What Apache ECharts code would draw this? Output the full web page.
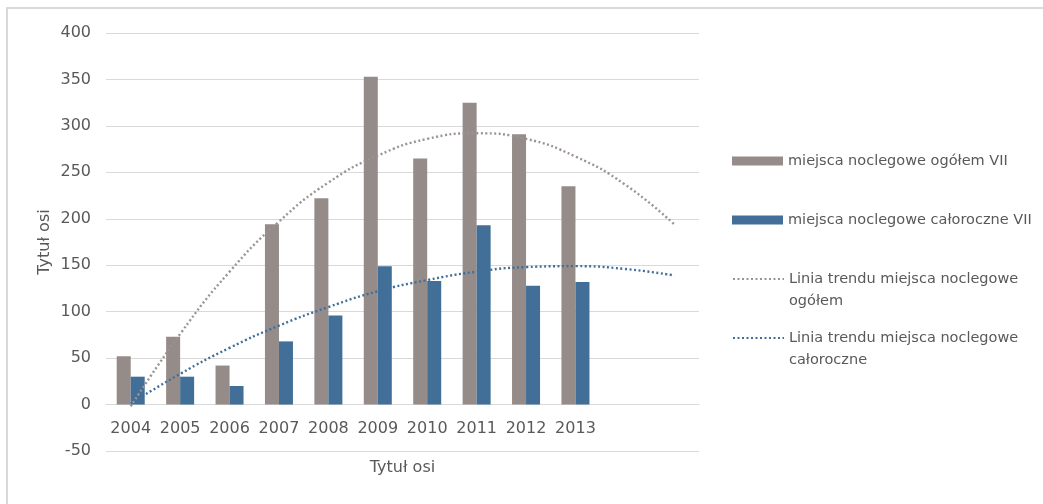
<!DOCTYPE html>
<html>
<head>
<meta charset="utf-8">
<script src="https://cdn.jsdelivr.net/npm/echarts@6/dist/echarts.min.js"></script>
<style>
  html, body { margin: 0; padding: 0; background: #fff; }
  #chart { width: 1043px; height: 504px; }
</style>
</head>
<body>
<div id="chart"></div>
<script>
// categories (two empty slots after 2013 for the trend forecast)
const years = ['2004', '2005', '2006', '2007', '2008', '2009', '2010', '2011', '2012', '2013', '', ''];

// bar values
const ogolem = [52, 73, 42, 194, 222, 353, 265, 325, 291, 235];
const caloroczne = [30, 30, 20, 68, 96, 149, 133, 193, 128, 132];

// trend lines read at each category position
const trendOgolem = [-2, 76, 143, 197, 239, 268, 286, 292, 286, 267, 237, 194];
const trendCaloroczne = [1, 33, 61, 85, 105, 122, 134, 143, 148, 149, 146, 139];

const yTicks = { min: -50, max: 400, step: 50 };

const names = [
  'miejsca noclegowe ogółem VII',
  'miejsca noclegowe całoroczne VII',
  'Linia trendu miejsca noclegowe ogółem',
  'Linia trendu miejsca noclegowe całoroczne'
];

const grayBar = '#958b89';
const blueBar = '#416f97';
const txt = '#595959';
const font = 'DejaVu Sans';

let myChart = echarts.init(document.getElementById('chart'));

// one legend per entry so each sits where the original puts it
function legendItem(name, top, isLine) {
  let lg = {
    data: [name],
    left: 732,
    top: top,
    orient: 'vertical',
    padding: 0,
    itemWidth: 51,
    itemHeight: 9,
    selectedMode: false,
    textStyle: { color: txt, fontFamily: font, fontSize: 14.5, lineHeight: 22 }
  };
  if (isLine) {
    // blank first line so the icon lines up with the first text row
    lg.formatter = function (n) {
      return '\n' + n.replace('noclegowe ', 'noclegowe\n');
    };
    lg.itemStyle = { opacity: 0 };
  } else {
    lg.icon = 'rect';
  }
  return lg;
}

option = {
  animation: false,
  textStyle: { fontFamily: font },
  graphic: [
    {
      type: 'rect',
      shape: { x: 7, y: 8, width: 1100, height: 600 },
      style: { fill: 'none', stroke: '#d9d9d9', lineWidth: 2 },
      silent: true
    }
  ],
  grid: { left: 106, right: 344, top: 33, bottom: 53, outerBoundsMode: 'none' },
  legend: [
    legendItem(names[0], 150, false),
    legendItem(names[1], 209, false),
    legendItem(names[2], 246, true),
    legendItem(names[3], 305, true)
  ],
  xAxis: {
    type: 'category',
    data: years,
    // category axis sits on the 0 line, one step above the grid bottom
    offset: -47,
    axisLine: { onZero: false, lineStyle: { color: '#d9d9d9', width: 1 } },
    axisTick: { show: false },
    axisLabel: { color: txt, fontSize: 16, margin: 17, interval: 0 },
    name: 'Tytuł osi',
    nameLocation: 'middle',
    nameGap: 56,
    nameMoveOverlap: false,
    nameTextStyle: { color: txt, fontSize: 16 }
  },
  yAxis: {
    type: 'value',
    min: yTicks.min,
    max: yTicks.max,
    interval: yTicks.step,
    axisLine: { show: false },
    axisTick: { show: false },
    splitLine: { lineStyle: { color: '#d9d9d9', width: 1 } },
    axisLabel: { color: txt, fontSize: 16, margin: 15 },
    name: 'Tytuł osi',
    nameLocation: 'middle',
    nameRotate: 90,
    nameGap: 53,
    nameMoveOverlap: false,
    nameTextStyle: { color: txt, fontSize: 16 }
  },
  series: [
    {
      name: names[0],
      type: 'bar',
      data: ogolem,
      barWidth: 14,
      barGap: '0%',
      itemStyle: { color: grayBar }
    },
    {
      name: names[1],
      type: 'bar',
      data: caloroczne,
      barWidth: 14,
      barGap: '0%',
      itemStyle: { color: blueBar }
    },
    {
      name: names[2],
      type: 'line',
      data: trendOgolem,
      smooth: true,
      symbol: 'none',
      z: 3,
      color: '#9a9392',
      lineStyle: { color: '#9a9392', width: 2.4, type: [2, 2.5] }
    },
    {
      name: names[3],
      type: 'line',
      data: trendCaloroczne,
      smooth: true,
      symbol: 'none',
      z: 3,
      color: '#3f6f98',
      lineStyle: { color: '#3f6f98', width: 2.4, type: [2, 2.5] }
    }
  ]
};
myChart.setOption(option);
</script>
</body>
</html>
